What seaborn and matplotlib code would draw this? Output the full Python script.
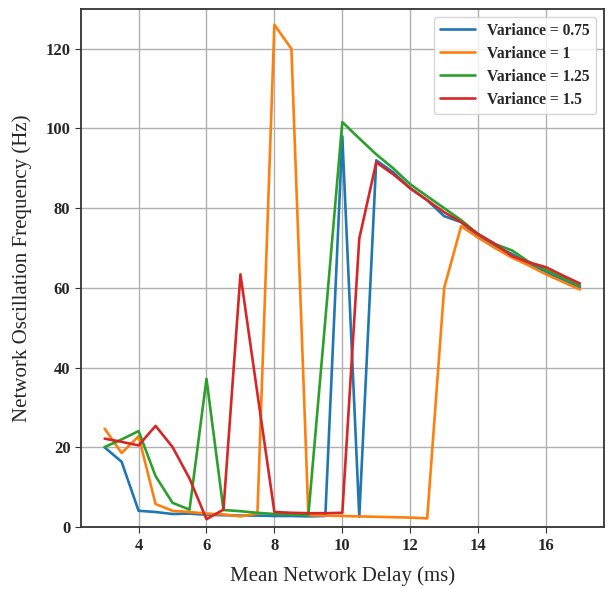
import pandas as pd
import matplotlib.pyplot as plt
import seaborn as sns
import numpy as np

sns.set_style('whitegrid')
plt.rcParams['font.family'] = ['Liberation Serif', 'DejaVu Serif']

# Data
delay = [3, 3.5, 4, 4.5, 5, 5.5, 6, 6.5, 7, 7.5, 8, 8.5, 9, 9.5, 10,
         10.5, 11, 11.5, 12, 12.5, 13, 13.5, 14, 14.5, 15, 15.5, 16, 16.5, 17]

var_075 = [20.0, 16.4, 4.1, 3.8, 3.3, 3.4, 3.1, 3.0, 2.9, 2.9, 2.8, 2.8, 2.7, 2.8, 98.0,
           2.6, 92.0, 89.0, 85.0, 82.0, 78.0, 76.5, 73.0, 70.5, 68.5, 66.0, 64.0, 62.0, 60.2]
var_1 = [24.7, 18.6, 22.8, 5.8, 4.1, 3.8, 3.4, 3.2, 2.7, 3.4, 126.0, 120.0, 3.0, 2.9, 2.8,
         2.7, 2.6, 2.5, 2.4, 2.2, 60.0, 75.5, 72.6, 70.0, 67.6, 65.6, 63.4, 61.5, 59.6]
var_125 = [20.1, 22.0, 24.1, 12.8, 6.1, 4.4, 37.2, 4.3, 4.0, 3.6, 3.3, 3.2, 3.0, 52.0, 101.6,
           97.5, 93.5, 90.0, 86.0, 83.0, 80.0, 77.0, 73.5, 71.0, 69.4, 66.5, 64.5, 62.5, 60.5]
var_15 = [22.2, 21.4, 20.5, 25.4, 20.1, 12.2, 2.0, 4.4, 63.4, 33.5, 3.8, 3.6, 3.5, 3.5, 3.6,
          72.4, 91.5, 88.5, 85.0, 82.0, 79.0, 76.5, 73.5, 71.0, 68.0, 66.4, 65.2, 63.1, 61.1]

labels = ['Variance = 0.75', 'Variance = 1', 'Variance = 1.25', 'Variance = 1.5']
series = [var_075, var_1, var_125, var_15]

df = pd.concat([pd.DataFrame({'delay': delay, 'freq': s, 'Variance': lab})
                for s, lab in zip(series, labels)], ignore_index=True)

fig, ax = plt.subplots(figsize=(6.08, 5.89), dpi=100)
fig.subplots_adjust(left=0.133, right=0.993, top=0.985, bottom=0.105)

sns.lineplot(data=df, x='delay', y='freq', hue='Variance', palette='tab10',
             linewidth=1.9, ax=ax, legend=True)

ax.set_xlim(2.3, 17.7)
ax.set_ylim(0, 130)
ax.set_xticks([4, 6, 8, 10, 12, 14, 16])
ax.set_yticks([0, 20, 40, 60, 80, 100, 120])
ax.grid(True, color='#b0b0b0', linewidth=1)
for sp in ax.spines.values():
    sp.set_color('#333333')
    sp.set_linewidth(1.3)

for lab in ax.get_xticklabels() + ax.get_yticklabels():
    lab.set_fontweight('bold')
    lab.set_fontsize(12)
ax.tick_params(axis='both', length=4, color='#333333', direction='out', left=True, bottom=True)

ax.set_xlabel('Mean Network Delay (ms)', fontsize=15, labelpad=9)
ax.set_ylabel('Network Oscillation Frequency (Hz)', fontsize=15, labelpad=10)

leg = ax.legend(loc='upper right', prop={'weight': 'bold', 'size': 11.2, 'family': 'Liberation Serif'},
                frameon=True, fancybox=True, edgecolor='#cccccc',
                handlelength=2.2, labelspacing=0.45)

plt.savefig('out.png', dpi=100, facecolor='white')
plt.close()
